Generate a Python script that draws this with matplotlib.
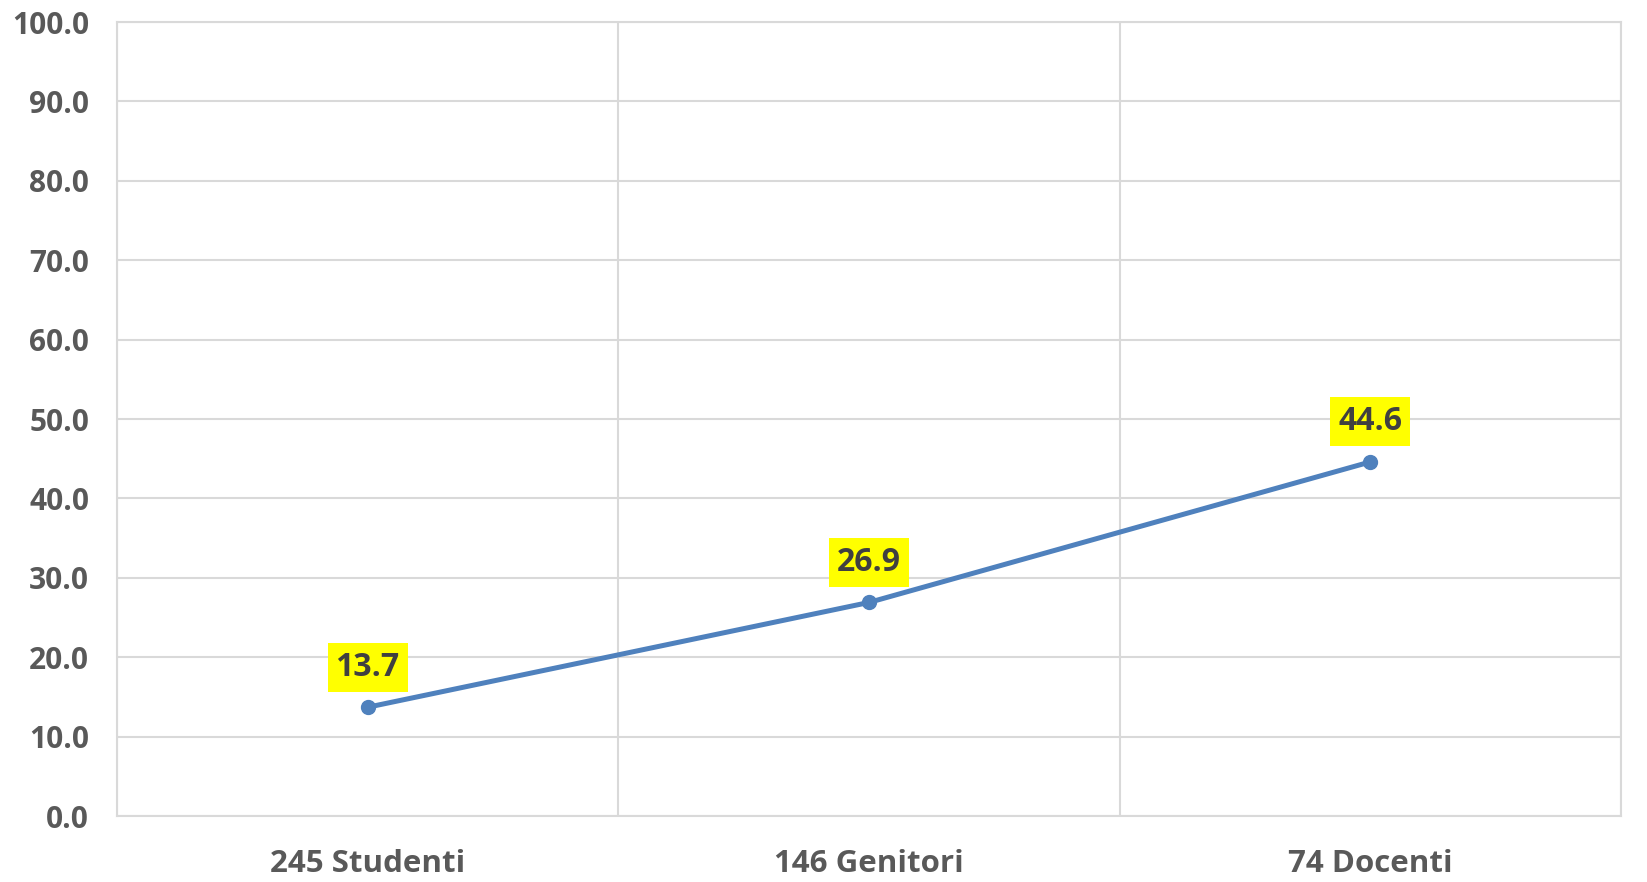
import matplotlib.pyplot as plt
import numpy as np

categories = ["245 Studenti", "146 Genitori", "74 Docenti"]
values = [13.7, 26.9, 44.6]
yticks = [0, 10, 20, 30, 40, 50, 60, 70, 80, 90, 100]

plt.rcParams['font.family'] = ['Open Sans', 'DejaVu Sans']

fig = plt.figure(figsize=(16.47, 8.82), dpi=100)
ax = fig.add_axes([0.0710, 0.0748, 0.9132, 0.9002])

x = np.arange(len(categories))
ax.plot(x, values, color='#4F81BD', lw=3.6, marker='o', ms=10, zorder=3)

for xi, v in zip(x, values):
    ax.annotate(f"{v:.1f}", (xi, v), xytext=(0, 17), textcoords='offset points',
                ha='center', va='bottom', fontsize=23, fontweight='bold', color='#404040',
                bbox=dict(boxstyle='square,pad=0.25', fc='#FFFF00', ec='none'), zorder=4)

ax.set_xlim(-0.5, len(categories) - 0.5)
ax.set_ylim(0, 100)
ax.set_yticks(yticks)
ax.set_yticklabels([f"{t:.1f}" for t in yticks])
ax.set_xticks(x)
ax.set_xticklabels(categories)
ax.set_xticks(np.arange(len(categories) + 1) - 0.5, minor=True)

ax.grid(axis='y', which='major', color='#D9D9D9', lw=1.5)
ax.grid(axis='x', which='minor', color='#D9D9D9', lw=1.5)
ax.grid(axis='x', which='major', visible=False)
ax.set_axisbelow(True)

for s in ax.spines.values():
    s.set_color('#D9D9D9')
    s.set_linewidth(1.5)

ax.tick_params(axis='both', which='both', length=0, labelcolor='#595959')
ax.tick_params(axis='y', pad=20, labelsize=21.5)
ax.tick_params(axis='x', pad=24, labelsize=22.5)
for lbl in ax.get_xticklabels() + ax.get_yticklabels():
    lbl.set_fontweight('bold')

fig.savefig('out.png', dpi=100)
